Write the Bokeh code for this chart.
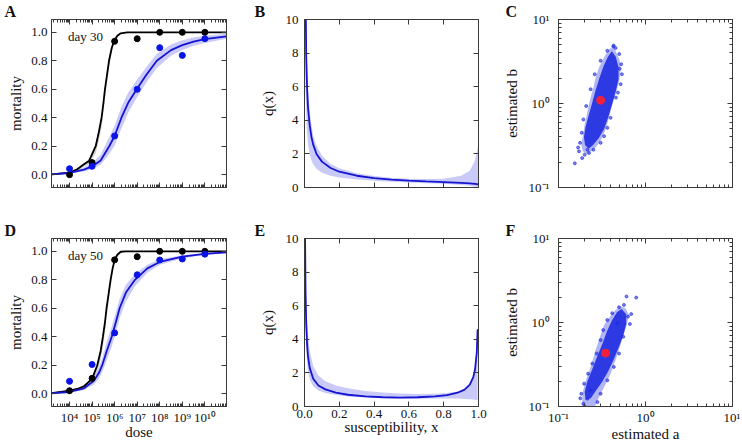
from bokeh.plotting import figure
from bokeh.models import LinearAxis, LogAxis, FixedTicker, NumeralTickFormatter
from bokeh.layouts import column, row
from bokeh.embed import file_html
from bokeh.resources import INLINE
from bokeh.core.properties import value

SERIF = "Liberation Serif"
FRAME = "#3a3a3a"
TXT = "#111111"
BLUE = "#1414d2"
BAND = "#8a8af0"
CLOUD = "#1f2be0"
RED = "#f0203a"

# ---------------- data ----------------
dose_points = [1e4, 1e5, 1e6, 1e7, 1e8, 1e9, 1e10]
dose_tick_labels = ["10⁴", "10⁵", "10⁶", "10⁷", "10⁸", "10⁹", "10¹⁰"]
mort_ticks = [0.0, 0.2, 0.4, 0.6, 0.8, 1.0]
q_ticks = [0, 2, 4, 6, 8, 10]
x_ticks = [0.0, 0.2, 0.4, 0.6, 0.8, 1.0]
ab_ticks = [0.1, 1.0, 10.0]
ab_tick_labels = ["10⁻¹", "10⁰", "10¹"]

# day 30 observed mortality
d30_black = [0.0, 0.085, 0.937, 0.955, 1.0, 1.0, 1.0]
d30_blue = [0.042, 0.059, 0.272, 0.60, 0.892, 0.838, 0.955]
# day 50 observed mortality
d50_black = [0.021, 0.108, 0.94, 0.962, 1.0, 1.0, 1.0]
d50_blue = [0.087, 0.205, 0.427, 0.835, 0.939, 0.946, 0.98]

# fitted curves (log10 dose, mortality)
a_black_ld = [3.2, 4.0, 4.34, 4.64, 4.86, 5.16, 5.30, 5.42, 5.50, 5.57, 5.66, 5.75, 5.87, 5.97, 6.12, 6.27, 6.56, 10.96]
a_black_m = [0.002, 0.014, 0.038, 0.073, 0.096, 0.20, 0.30, 0.40, 0.50, 0.60, 0.70, 0.80, 0.89, 0.937, 0.976, 0.993, 1.0, 1.0]
a_black_lo = [0.001, 0.010, 0.028, 0.055, 0.074, 0.15, 0.24, 0.33, 0.43, 0.53, 0.64, 0.75, 0.855, 0.915, 0.965, 0.99, 1.0, 1.0]
a_black_hi = [0.003, 0.017, 0.045, 0.082, 0.108, 0.22, 0.32, 0.42, 0.52, 0.62, 0.72, 0.815, 0.90, 0.945, 0.98, 0.995, 1.0, 1.0]

a_blue_ld = [3.2, 4.0, 4.64, 5.0, 5.38, 5.76, 6.0, 6.3, 6.6, 6.98, 7.4, 7.87, 8.5, 9.0, 9.5, 10.0, 10.96]
a_blue_m = [0.002, 0.012, 0.035, 0.058, 0.10, 0.20, 0.272, 0.40, 0.505, 0.60, 0.70, 0.80, 0.875, 0.91, 0.935, 0.952, 0.972]
a_blue_lo = [0.001, 0.008, 0.023, 0.04, 0.07, 0.145, 0.205, 0.325, 0.435, 0.54, 0.645, 0.75, 0.835, 0.875, 0.905, 0.925, 0.955]
a_blue_hi = [0.003, 0.018, 0.05, 0.082, 0.14, 0.265, 0.345, 0.475, 0.575, 0.665, 0.755, 0.85, 0.915, 0.945, 0.963, 0.975, 0.99]

d_black_ld = [3.2, 4.0, 4.34, 4.64, 5.0, 5.23, 5.38, 5.48, 5.57, 5.64, 5.73, 5.82, 5.91, 6.0, 6.12, 6.27, 6.5, 10.96]
d_black_m = [0.004, 0.021, 0.033, 0.052, 0.104, 0.20, 0.30, 0.40, 0.50, 0.60, 0.70, 0.80, 0.88, 0.94, 0.976, 0.997, 1.0, 1.0]
d_black_lo = [0.003, 0.016, 0.025, 0.040, 0.08, 0.155, 0.24, 0.33, 0.43, 0.53, 0.64, 0.75, 0.845, 0.915, 0.965, 0.99, 1.0, 1.0]
d_black_hi = [0.005, 0.024, 0.038, 0.060, 0.115, 0.22, 0.32, 0.42, 0.52, 0.62, 0.72, 0.815, 0.89, 0.948, 0.98, 0.998, 1.0, 1.0]

d_blue_ld = [3.2, 4.0, 4.64, 5.08, 5.3, 5.45, 5.65, 5.87, 6.05, 6.22, 6.5, 6.9, 7.45, 8.0, 9.0, 10.0, 10.96]
d_blue_m = [0.003, 0.012, 0.038, 0.09, 0.145, 0.2, 0.3, 0.4, 0.5, 0.6, 0.71, 0.8, 0.88, 0.925, 0.962, 0.982, 0.992]
d_blue_lo = [0.002, 0.008, 0.026, 0.065, 0.105, 0.15, 0.235, 0.33, 0.43, 0.53, 0.65, 0.755, 0.85, 0.905, 0.95, 0.975, 0.988]
d_blue_hi = [0.004, 0.016, 0.05, 0.115, 0.185, 0.25, 0.365, 0.47, 0.57, 0.665, 0.765, 0.84, 0.905, 0.945, 0.972, 0.988, 0.996]

# susceptibility distributions q(x)
b_x = [0.005, 0.01, 0.015, 0.02, 0.03, 0.04, 0.05, 0.07, 0.1, 0.15, 0.2, 0.3, 0.4, 0.5, 0.6, 0.7, 0.8, 0.9, 0.95, 0.98, 1.0]
b_q = [12.7, 7.8, 5.9, 4.8, 3.7, 3.0, 2.55, 1.98, 1.54, 1.16, 0.94, 0.70, 0.56, 0.47, 0.41, 0.36, 0.32, 0.28, 0.25, 0.22, 0.18]
b_lo = [6.5, 4.2, 3.2, 2.6, 1.95, 1.6, 1.38, 1.1, 0.88, 0.7, 0.6, 0.48, 0.4, 0.34, 0.3, 0.26, 0.22, 0.15, 0.1, 0.05, 0.0]
b_hi = [14.0, 9.0, 7.0, 5.8, 4.5, 3.7, 3.1, 2.45, 1.9, 1.4, 1.15, 0.85, 0.68, 0.58, 0.52, 0.5, 0.52, 0.7, 1.0, 1.6, 2.6]

e_x = [0.003, 0.006, 0.01, 0.015, 0.02, 0.03, 0.05, 0.08, 0.12, 0.18, 0.25, 0.35, 0.45, 0.55, 0.65, 0.75, 0.82, 0.88, 0.92, 0.95, 0.97, 0.98, 0.99, 0.995]
e_q = [10.5, 6.8, 4.9, 3.7, 3.0, 2.3, 1.65, 1.25, 1.02, 0.82, 0.70, 0.60, 0.55, 0.53, 0.55, 0.60, 0.68, 0.82, 1.0, 1.3, 1.75, 2.2, 3.2, 4.6]
e_lo = [8.0, 5.0, 3.5, 2.6, 2.1, 1.6, 1.2, 0.95, 0.8, 0.68, 0.6, 0.53, 0.5, 0.47, 0.46, 0.47, 0.48, 0.47, 0.45, 0.43, 0.41, 0.4, 0.38, 0.37]
e_hi = [13.0, 9.0, 6.8, 5.2, 4.3, 3.3, 2.4, 1.85, 1.5, 1.25, 1.08, 0.93, 0.83, 0.77, 0.75, 0.76, 0.8, 0.9, 1.05, 1.3, 1.75, 2.2, 3.2, 4.6]

# estimated (a, b) clouds: outer envelope, dense core, sparse points, best estimate
c_outer_a = [0.397, 0.441, 0.474, 0.508, 0.518, 0.499, 0.466, 0.427, 0.397, 0.371, 0.342, 0.310, 0.275, 0.239, 0.211, 0.190, 0.183, 0.190, 0.197, 0.208, 0.219, 0.234, 0.252, 0.267, 0.292, 0.327, 0.357]
c_outer_b = [4.58, 4.45, 3.81, 3.23, 2.45, 1.86, 1.41, 1.07, 0.813, 0.617, 0.469, 0.372, 0.310, 0.270, 0.251, 0.270, 0.324, 0.408, 0.514, 0.676, 0.891, 1.175, 1.55, 2.04, 2.69, 3.38, 4.06]
c_core_a = [0.41, 0.455, 0.49, 0.49, 0.455, 0.41, 0.372, 0.335, 0.292, 0.25, 0.222, 0.202, 0.196, 0.205, 0.222, 0.243, 0.265, 0.295, 0.33, 0.37]
c_core_b = [4.2, 3.6, 2.7, 1.95, 1.4, 0.95, 0.68, 0.5, 0.39, 0.32, 0.29, 0.32, 0.4, 0.53, 0.72, 1.0, 1.4, 2.0, 2.8, 3.6]
c_pts_a = [0.154, 0.187, 0.200, 0.177, 0.185, 0.224, 0.252, 0.305, 0.364, 0.397, 0.457, 0.518, 0.536, 0.526, 0.499, 0.453, 0.427, 0.364, 0.305, 0.261, 0.234, 0.208, 0.193, 0.215, 0.334, 0.482, 0.172, 0.168, 0.43, 0.505]
c_pts_b = [0.194, 0.224, 0.246, 0.340, 0.448, 0.258, 0.282, 0.340, 0.514, 0.676, 1.175, 1.70, 2.23, 2.94, 3.88, 4.58, 4.75, 4.25, 3.23, 2.23, 1.48, 0.933, 0.646, 0.282, 0.408, 1.35, 0.27, 0.3, 4.9, 2.6]
c_best = (0.305, 1.09)

f_outer_a = [0.518, 0.590, 0.644, 0.617, 0.565, 0.508, 0.453, 0.397, 0.334, 0.292, 0.256, 0.188, 0.188, 0.206, 0.234, 0.267, 0.300, 0.334, 0.391, 0.453]
f_outer_b = [1.55, 1.48, 1.23, 0.977, 0.741, 0.514, 0.356, 0.246, 0.170, 0.129, 0.095, 0.095, 0.142, 0.205, 0.296, 0.469, 0.676, 0.933, 1.175, 1.41]
f_core_a = [0.53, 0.6, 0.6, 0.555, 0.49, 0.43, 0.37, 0.315, 0.27, 0.235, 0.205, 0.2, 0.215, 0.245, 0.28, 0.32, 0.36, 0.41, 0.47]
f_core_b = [1.45, 1.25, 0.95, 0.7, 0.5, 0.36, 0.26, 0.195, 0.155, 0.125, 0.12, 0.15, 0.2, 0.28, 0.4, 0.56, 0.78, 1.05, 1.32]
f_pts_a = [0.605, 0.782, 0.685, 0.662, 0.629, 0.555, 0.496, 0.433, 0.364, 0.305, 0.280, 0.193, 0.183, 0.197, 0.219, 0.245, 0.275, 0.305, 0.327, 0.364, 0.415, 0.496, 0.565, 0.474, 0.234, 0.215, 0.178, 0.2]
f_pts_b = [2.04, 1.98, 1.26, 0.959, 1.175, 0.676, 0.428, 0.296, 0.205, 0.142, 0.113, 0.108, 0.142, 0.187, 0.246, 0.324, 0.428, 0.617, 0.813, 1.07, 1.29, 1.52, 1.62, 0.977, 0.156, 0.124, 0.125, 0.1]
f_best = (0.348, 0.432)

panel_letters = ["A", "B", "C", "D", "E", "F"]

dose_minor = [m * 10 ** k for k in range(3, 11) for m in range(2, 10)]
ab_minor = [m * 10 ** k for k in (-1, 0) for m in range(2, 10)]

FH = 168


def style(ax, show_labels, minor, standoff=4, label_standoff=4):
    ax.axis_line_color = FRAME
    ax.major_tick_in = 5
    ax.major_tick_out = 0
    ax.major_tick_line_color = FRAME
    ax.minor_tick_in = 3 if minor else 0
    ax.minor_tick_out = 0
    ax.minor_tick_line_color = FRAME if minor else None
    ax.major_label_text_font = SERIF
    ax.major_label_text_color = TXT
    if show_labels:
        ax.major_label_text_font_size = "13px"
        ax.major_label_standoff = standoff
    else:
        ax.major_label_text_font_size = "1px"
        ax.major_label_text_alpha = 0
        ax.major_label_standoff = 0
    ax.axis_label_text_font = SERIF
    ax.axis_label_text_font_size = "15px"
    ax.axis_label_text_font_style = "normal"
    ax.axis_label_text_color = TXT
    ax.axis_label_standoff = label_standoff


def base(xt, yt, xr, yr, fw, left, right, top, bottom, letter):
    p = figure(x_axis_type=xt, y_axis_type=yt, x_range=xr, y_range=yr,
               frame_width=fw, frame_height=FH,
               min_border_left=left, min_border_right=right,
               min_border_top=top, min_border_bottom=bottom,
               output_backend="svg", toolbar_location=None)
    p.xgrid.visible = False
    p.ygrid.visible = False
    p.outline_line_color = FRAME
    p.background_fill_color = "white"
    p.border_fill_color = "white"
    p.title.text = letter
    p.title.text_font = SERIF
    p.title.text_font_style = "bold"
    p.title.text_font_size = "16px"
    p.title.text_color = TXT
    p.title.align = "left"
    p.title.offset = -(left - 4)
    p.title.standoff = 0
    return p


ROW1 = (19, 32)
ROW2 = (16, 39)


def dose_panel(top_row, letter, black_pts, blue_pts, bl_ld, bl_m, bl_lo, bl_hi, bu_ld, bu_m, bu_lo, bu_hi, day_txt):
    top, bottom = ROW1 if top_row else ROW2
    p = base("log", "linear", (10 ** 3.2, 10 ** 10.96), (-0.09, 1.09), 175, 51, 24, top, bottom, letter)
    tick = FixedTicker(ticks=dose_points, minor_ticks=dose_minor)
    yt = FixedTicker(ticks=mort_ticks, minor_ticks=[])
    p.xaxis.ticker = tick
    p.yaxis.ticker = yt
    p.yaxis.formatter = NumeralTickFormatter(format="0.0")
    p.xaxis.major_label_overrides = {k: v for k, v in zip(dose_points, dose_tick_labels)}
    style(p.xaxis[0], not top_row, True, 3, -4)
    style(p.yaxis[0], True, False, 4, 4)
    p.yaxis.axis_label = "mortality"
    if not top_row:
        p.xaxis.axis_label = "dose"
    ax_t = LogAxis(ticker=tick)
    style(ax_t, False, True)
    p.add_layout(ax_t, "above")
    ax_r = LinearAxis(ticker=yt)
    style(ax_r, False, False)
    p.add_layout(ax_r, "right")

    bl_d = [10 ** v for v in bl_ld]
    bu_d = [10 ** v for v in bu_ld]
    p.varea(x=bu_d, y1=bu_lo, y2=bu_hi, fill_color=BAND, fill_alpha=0.45)
    p.varea(x=bl_d, y1=bl_lo, y2=bl_hi, fill_color="#b4b4b4", fill_alpha=0.6)
    p.line(bl_d, bl_m, line_color="#000000", line_width=1.8)
    p.line(bu_d, bu_m, line_color=BLUE, line_width=1.8)
    p.scatter(dose_points, black_pts, size=6, color="#000000")
    p.scatter(dose_points, blue_pts, size=6, color="#0a14e6")
    p.text(x=[10 ** 3.93], y=[0.972], text=[day_txt], text_font=value(SERIF),
           text_font_size="13px", text_color=TXT, text_baseline="middle", text_align="left")
    return p


def q_panel(top_row, letter, xs, q, lo, hi):
    top, bottom = ROW1 if top_row else ROW2
    p = base("linear", "linear", (0, 1), (0, 10), 174, 54, 22, top, bottom, letter)
    xt = FixedTicker(ticks=x_ticks, minor_ticks=[])
    yt = FixedTicker(ticks=q_ticks, minor_ticks=[])
    p.xaxis.ticker = xt
    p.yaxis.ticker = yt
    p.xaxis.formatter = NumeralTickFormatter(format="0.0")
    style(p.xaxis[0], not top_row, False, 3, -2)
    style(p.yaxis[0], True, False, 6, 7)
    p.yaxis.axis_label = "q(x)"
    if not top_row:
        p.xaxis.axis_label = "susceptibility, x"
    ax_t = LinearAxis(ticker=xt)
    style(ax_t, False, False)
    p.add_layout(ax_t, "above")
    ax_r = LinearAxis(ticker=yt)
    style(ax_r, False, False)
    p.add_layout(ax_r, "right")
    p.varea(x=xs, y1=lo, y2=hi, fill_color=BAND, fill_alpha=0.45)
    p.line(xs, q, line_color=BLUE, line_width=1.8)
    return p


def ab_panel(top_row, letter, oa, ob, ca, cb, pa, pb, best):
    top, bottom = ROW1 if top_row else ROW2
    p = base("log", "log", (0.1, 10), (0.1, 10), 174, 57, 8, top, bottom, letter)
    t = FixedTicker(ticks=ab_ticks, minor_ticks=ab_minor)
    p.xaxis.ticker = t
    p.yaxis.ticker = t
    over = {k: v for k, v in zip(ab_ticks, ab_tick_labels)}
    p.xaxis.major_label_overrides = over
    p.yaxis.major_label_overrides = over
    style(p.xaxis[0], not top_row, True, 3, -2)
    style(p.yaxis[0], True, True, 9, 6)
    p.yaxis.axis_label = "estimated b"
    if not top_row:
        p.xaxis.axis_label = "estimated a"
    ax_t = LogAxis(ticker=t)
    style(ax_t, False, True)
    p.add_layout(ax_t, "above")
    ax_r = LogAxis(ticker=t)
    style(ax_r, False, True)
    p.add_layout(ax_r, "right")
    p.patch(oa, ob, fill_color=CLOUD, fill_alpha=0.35, line_color=None)
    p.patch(ca, cb, fill_color=CLOUD, fill_alpha=0.9, line_color=None)
    p.scatter(pa, pb, size=3, color=CLOUD, alpha=0.6)
    p.scatter([best[0]], [best[1]], size=8, color=RED)
    return p


pA = dose_panel(True, panel_letters[0], d30_black, d30_blue, a_black_ld, a_black_m, a_black_lo, a_black_hi,
                a_blue_ld, a_blue_m, a_blue_lo, a_blue_hi, "day 30")
pB = q_panel(True, panel_letters[1], b_x, b_q, b_lo, b_hi)
pC = ab_panel(True, panel_letters[2], c_outer_a, c_outer_b, c_core_a, c_core_b, c_pts_a, c_pts_b, c_best)
pD = dose_panel(False, panel_letters[3], d50_black, d50_blue, d_black_ld, d_black_m, d_black_lo, d_black_hi,
                d_blue_ld, d_blue_m, d_blue_lo, d_blue_hi, "day 50")
pE = q_panel(False, panel_letters[4], e_x, e_q, e_lo, e_hi)
pF = ab_panel(False, panel_letters[5], f_outer_a, f_outer_b, f_core_a, f_core_b, f_pts_a, f_pts_b, f_best)

layout = column(row(pA, pB, pC), row(pD, pE, pF))
open("out.html", "w").write(file_html(layout, INLINE))
